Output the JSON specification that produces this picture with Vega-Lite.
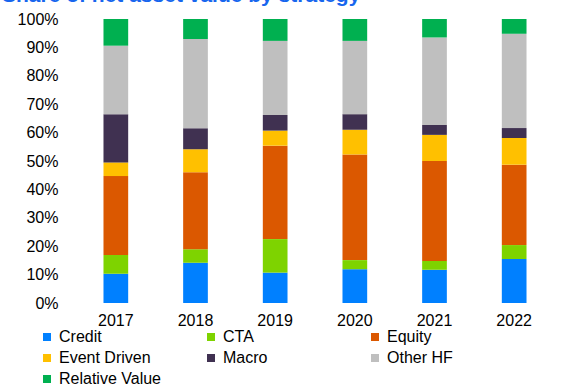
{
  "$schema": "https://vega.github.io/schema/vega-lite/v6.json",
  "width": 478,
  "height": 284,
  "autosize": "none",
  "padding": {"left": 76, "top": 19, "right": 17, "bottom": 82},
  "background": "white",
  "config": {
    "view": {"stroke": null},
    "font": "Liberation Sans"
  },
  "title": {
    "text": "Share of net asset value by strategy",
    "frame": "group",
    "anchor": "start",
    "dx": -74,
    "dy": 16,
    "offset": 4,
    "baseline": "alphabetic",
    "fontSize": 21,
    "fontWeight": "bold",
    "color": "#1766EE",
    "font": "Liberation Sans"
  },
  "data": {
    "values": [
      {"year": "2017", "strategy": "Credit", "value": 10.3},
      {"year": "2017", "strategy": "CTA", "value": 6.6},
      {"year": "2017", "strategy": "Equity", "value": 27.8},
      {"year": "2017", "strategy": "Event Driven", "value": 4.8},
      {"year": "2017", "strategy": "Macro", "value": 17.0},
      {"year": "2017", "strategy": "Other HF", "value": 24.1},
      {"year": "2017", "strategy": "Relative Value", "value": 9.4},
      {"year": "2018", "strategy": "Credit", "value": 14.2},
      {"year": "2018", "strategy": "CTA", "value": 4.7},
      {"year": "2018", "strategy": "Equity", "value": 27.1},
      {"year": "2018", "strategy": "Event Driven", "value": 8.1},
      {"year": "2018", "strategy": "Macro", "value": 7.4},
      {"year": "2018", "strategy": "Other HF", "value": 31.5},
      {"year": "2018", "strategy": "Relative Value", "value": 7.0},
      {"year": "2019", "strategy": "Credit", "value": 10.7},
      {"year": "2019", "strategy": "CTA", "value": 11.8},
      {"year": "2019", "strategy": "Equity", "value": 32.9},
      {"year": "2019", "strategy": "Event Driven", "value": 5.3},
      {"year": "2019", "strategy": "Macro", "value": 5.5},
      {"year": "2019", "strategy": "Other HF", "value": 26.1},
      {"year": "2019", "strategy": "Relative Value", "value": 7.7},
      {"year": "2020", "strategy": "Credit", "value": 11.9},
      {"year": "2020", "strategy": "CTA", "value": 3.2},
      {"year": "2020", "strategy": "Equity", "value": 37.2},
      {"year": "2020", "strategy": "Event Driven", "value": 8.7},
      {"year": "2020", "strategy": "Macro", "value": 5.5},
      {"year": "2020", "strategy": "Other HF", "value": 25.8},
      {"year": "2020", "strategy": "Relative Value", "value": 7.7},
      {"year": "2021", "strategy": "Credit", "value": 11.7},
      {"year": "2021", "strategy": "CTA", "value": 3.1},
      {"year": "2021", "strategy": "Equity", "value": 35.2},
      {"year": "2021", "strategy": "Event Driven", "value": 9.2},
      {"year": "2021", "strategy": "Macro", "value": 3.5},
      {"year": "2021", "strategy": "Other HF", "value": 30.8},
      {"year": "2021", "strategy": "Relative Value", "value": 6.5},
      {"year": "2022", "strategy": "Credit", "value": 15.5},
      {"year": "2022", "strategy": "CTA", "value": 4.9},
      {"year": "2022", "strategy": "Equity", "value": 28.3},
      {"year": "2022", "strategy": "Event Driven", "value": 9.4},
      {"year": "2022", "strategy": "Macro", "value": 3.5},
      {"year": "2022", "strategy": "Other HF", "value": 33.2},
      {"year": "2022", "strategy": "Relative Value", "value": 5.2}
    ]
  },
  "transform": [
    {"calculate": "indexof(['Credit','CTA','Equity','Event Driven','Macro','Other HF','Relative Value'], datum.strategy)", "as": "rank"}
  ],
  "mark": {"type": "bar"},
  "encoding": {
    "x": {
      "field": "year",
      "type": "ordinal",
      "scale": {"paddingInner": 0.69, "paddingOuter": 0.345},
      "axis": {
        "title": null,
        "labelAngle": 0,
        "domain": false,
        "ticks": false,
        "labelPadding": 9,
        "labelFontSize": 16,
        "labelColor": "#000000",
        "labelFont": "Liberation Sans"
      }
    },
    "y": {
      "field": "value",
      "type": "quantitative",
      "stack": "normalize",
      "scale": {"domain": [0, 1]},
      "axis": {
        "title": null,
        "format": ".0%",
        "values": [0, 0.1, 0.2, 0.3, 0.4, 0.5, 0.6, 0.7, 0.8, 0.9, 1],
        "domain": false,
        "ticks": false,
        "grid": false,
        "labelPadding": 18,
        "labelFontSize": 16,
        "labelColor": "#000000",
        "labelFont": "Liberation Sans"
      }
    },
    "color": {
      "field": "strategy",
      "type": "nominal",
      "scale": {
        "domain": ["Credit", "CTA", "Equity", "Event Driven", "Macro", "Other HF", "Relative Value"],
        "range": ["#0080FF", "#7ED300", "#DB5800", "#FFC000", "#403151", "#BFBFBF", "#00B050"]
      },
      "legend": {
        "title": null,
        "orient": "none",
        "legendX": -37,
        "legendY": 310,
        "direction": "horizontal",
        "columns": 3,
        "gridAlign": "all",
        "columnPadding": 42,
        "rowPadding": 5,
        "symbolType": "square",
        "symbolSize": 64,
        "symbolStrokeWidth": 0,
        "labelOffset": 4,
        "labelFontSize": 16,
        "labelColor": "#000000",
        "labelFont": "Liberation Sans",
        "labelLimit": 300
      }
    },
    "order": {"field": "rank", "type": "quantitative", "sort": "ascending"}
  }
}
